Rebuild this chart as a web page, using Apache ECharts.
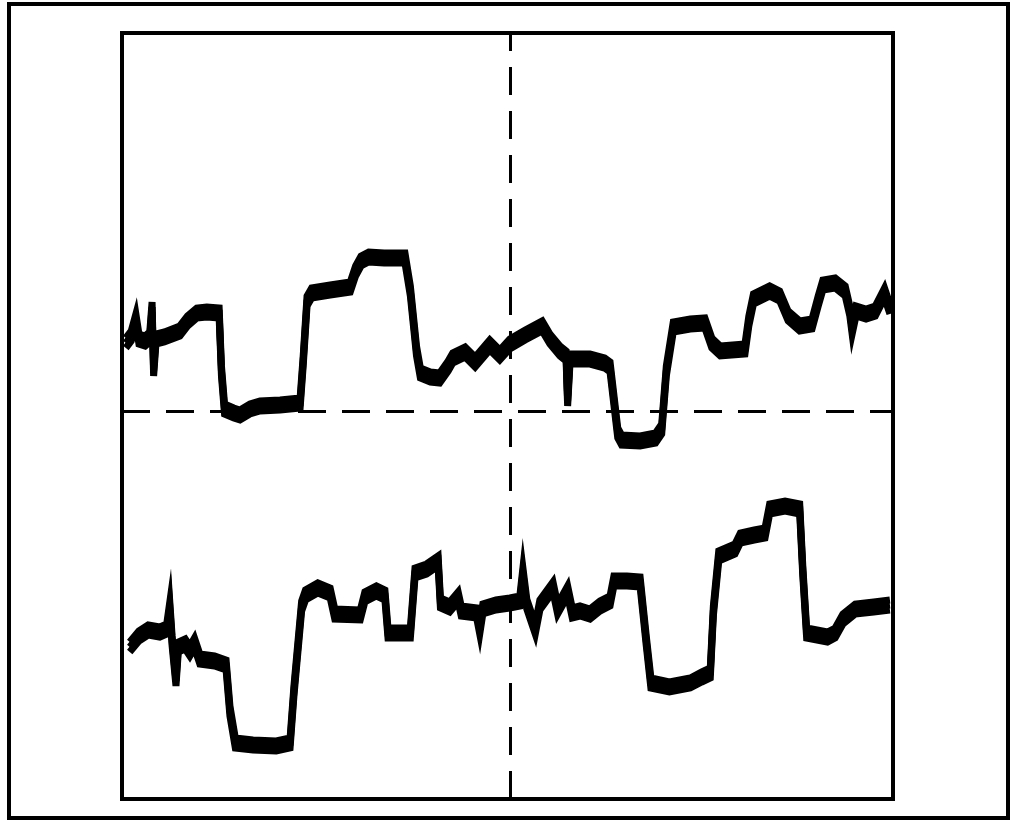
<!DOCTYPE html>
<html>
<head>
<meta charset="utf-8">
<script src="https://cdn.jsdelivr.net/npm/echarts@6/dist/echarts.min.js"></script>
<style>
  html, body { margin: 0; padding: 0; background: #fff; }
  #chart { width: 1013px; height: 821px; }
</style>
</head>
<body>
<div id="chart"></div>
<script>
// Upper trace: [time, level] samples
const upperTrace = [
  [0.5, 0.68], [1.2, 0.75], [1.8, 0.92], [2.2, 0.72], [3.0, 0.70], [3.6, 0.74],
  [3.9, 1.04], [4.1, 0.40], [4.4, 0.72], [5.5, 0.74], [7.5, 0.80], [8.5, 0.90],
  [9.7, 0.98], [11.0, 0.99], [12.6, 0.98], [12.9, 0.40], [13.3, 0.02], [14.5, -0.02],
  [15.3, -0.04], [16.6, 0.02], [17.9, 0.05], [20.5, 0.06], [23.1, 0.08], [23.5, 0.50],
  [24.0, 1.10], [24.6, 1.18], [27.0, 1.21], [29.6, 1.24], [30.3, 1.40], [31.0, 1.50],
  [32.0, 1.54], [34.0, 1.53], [36.7, 1.53], [37.4, 1.20], [38.2, 0.60], [38.7, 0.38],
  [40.0, 0.34], [41.2, 0.33], [42.3, 0.45], [42.9, 0.53], [44.5, 0.59], [45.8, 0.49],
  [47.7, 0.66], [49.0, 0.56], [50.3, 0.67], [52.3, 0.76], [54.5, 0.85], [55.5, 0.72],
  [56.8, 0.60], [57.6, 0.55], [57.8, 0.10], [58.1, 0.52], [58.8, 0.52], [60.7, 0.52],
  [62.6, 0.48], [63.3, 0.44], [64.3, -0.22], [64.8, -0.29], [67.2, -0.30], [69.2, -0.27],
  [70.0, -0.18], [70.6, 0.40], [71.5, 0.84], [73.7, 0.87], [75.6, 0.88], [76.5, 0.68],
  [77.6, 0.60], [80.8, 0.62], [81.3, 0.90], [81.9, 1.12], [84.0, 1.20], [85.3, 1.15],
  [86.4, 0.95], [87.9, 0.85], [89.5, 0.87], [90.3, 1.10], [90.9, 1.26], [92.5, 1.28],
  [93.8, 1.20], [94.4, 1.00], [94.7, 0.82], [95.2, 1.00], [96.5, 0.97], [97.7, 1.00],
  [98.9, 1.18], [99.6, 1.02]
];

// Lower trace: [time, level] samples
const lowerTrace = [
  [1.0, -2.36], [2.2, -2.25], [3.4, -2.19], [4.9, -2.21], [5.8, -2.18], [6.2, -1.96],
  [6.5, -2.30], [7.0, -2.70], [7.3, -2.36], [8.2, -2.33], [8.8, -2.40], [9.4, -2.32],
  [10.1, -2.48], [12.0, -2.50], [13.5, -2.54], [14.0, -3.00], [14.7, -3.32], [17.0, -3.34],
  [20.0, -3.35], [21.8, -3.32], [22.3, -2.80], [23.3, -1.95], [23.8, -1.84], [25.4, -1.77],
  [27.0, -1.82], [27.6, -2.03], [30.9, -2.04], [31.5, -1.86], [33.0, -1.80], [34.1, -1.84],
  [34.5, -2.22], [37.4, -2.22], [38.0, -1.62], [39.5, -1.58], [41.0, -1.50], [41.3, -1.92],
  [42.5, -1.96], [43.6, -1.86], [44.0, -2.00], [46.0, -2.02], [46.4, -2.18], [46.8, -1.98],
  [48.5, -1.94], [50.3, -1.92], [51.6, -1.90], [52.0, -1.62], [52.5, -1.93], [53.6, -2.18],
  [54.2, -1.94], [55.9, -1.76], [56.5, -1.98], [57.8, -1.80], [58.4, -2.02], [59.4, -2.00],
  [60.7, -2.03], [62.0, -1.95], [63.3, -1.90], [63.8, -1.70], [65.5, -1.70], [67.2, -1.71],
  [68.0, -2.30], [68.6, -2.72], [71.0, -2.76], [73.7, -2.72], [75.2, -2.66], [76.3, -2.62],
  [76.7, -2.00], [77.4, -1.45], [79.5, -1.38], [80.2, -1.27], [82.0, -1.24], [83.4, -1.22],
  [84.0, -0.98], [86.0, -0.95], [87.9, -0.98], [88.3, -1.60], [88.8, -2.22], [91.5, -2.26],
  [92.5, -2.22], [93.5, -2.08], [95.1, -1.98], [97.5, -1.96], [99.6, -1.94]
];

// Reference cursors
const timeCursor = 50.3;
const levelCursor = 0;

// Axis extents
const xRange = [0, 100];
const yRange = [-3.88, 3.78];

// The noisy band around each trace is drawn as a few stacked strokes
const bandOffsets = [-0.05, 0, 0.05];

function bandSeries(trace) {
  return bandOffsets.map(function (off) {
    return {
      type: 'line',
      data: trace.map(function (p) { return [p[0], p[1] + off]; }),
      showSymbol: false,
      symbol: 'none',
      silent: true,
      lineStyle: { color: '#000', width: 7, join: 'miter' },
      z: 3
    };
  });
}

const series = [].concat(bandSeries(upperTrace), bandSeries(lowerTrace));

series.push({
  type: 'line',
  data: [],
  silent: true,
  markLine: {
    silent: true,
    symbol: ['none', 'none'],
    label: { show: false },
    lineStyle: { color: '#000', width: 3, type: [28, 16] },
    data: [
      { xAxis: timeCursor },
      { yAxis: levelCursor }
    ]
  }
});

const chart = echarts.init(document.getElementById('chart'), null, { renderer: 'canvas' });
chart.setOption({
  animation: false,
  backgroundColor: '#fff',
  grid: {
    left: 122, top: 33, right: 120, bottom: 22,
    show: true, borderColor: '#000', borderWidth: 4, backgroundColor: 'transparent'
  },
  xAxis: {
    type: 'value', min: xRange[0], max: xRange[1], show: false,
    splitLine: { show: false }
  },
  yAxis: {
    type: 'value', min: yRange[0], max: yRange[1], show: false,
    splitLine: { show: false }
  },
  graphic: [{
    type: 'rect',
    shape: { x: 9, y: 4, width: 999, height: 814 },
    style: { fill: 'none', stroke: '#000', lineWidth: 4 },
    silent: true
  }],
  series: series
});
</script>
</body>
</html>
